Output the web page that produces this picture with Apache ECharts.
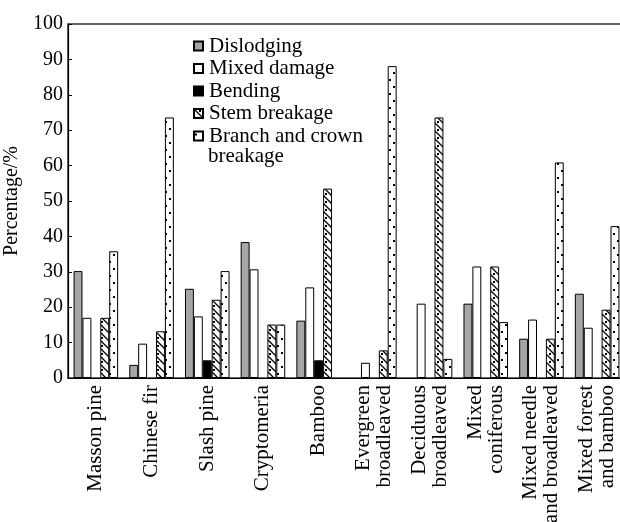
<!DOCTYPE html>
<html>
<head>
<meta charset="utf-8">
<script src="https://cdn.jsdelivr.net/npm/echarts@6/dist/echarts.min.js"></script>
<style>
  html, body { margin: 0; padding: 0; background: #fff; }
  #chart { width: 620px; height: 522px; }
</style>
</head>
<body>
<div id="chart"></div>
<script>
// Forest types on the x axis
const categories = [
  'Masson pine', 'Chinese fir', 'Slash pine', 'Cryptomeria', 'Bamboo',
  'Evergreen\nbroadleaved', 'Deciduous\nbroadleaved', 'Mixed\nconiferous',
  'Mixed needle\nand broadleaved', 'Mixed forest\nand bamboo'
];

// Share of each damage type (%), null = no damage of that type
const dislodging   = [30.2, 3.7, 25.2, 38.4, 16.2, null, null, 21.0, 11.1, 23.8];
const mixedDamage  = [17.0, 9.7, 17.4, 30.7, 25.6, 4.3, 21.0, 31.5, 16.5, 14.2];
const bending      = [null, null, 5.0, null, 5.0, null, null, null, null, null];
const stemBreakage = [17.0, 13.2, 22.1, 15.1, 53.5, 7.8, 73.6, 31.5, 11.1, 19.3];
const branchCrown  = [35.8, 73.6, 30.2, 15.1, null, 88.1, 5.4, 15.8, 60.9, 42.9];

const yTicks = [0, 10, 20, 30, 40, 50, 60, 70, 80, 90, 100];

const FONT = '"Liberation Serif", "DejaVu Serif", serif';

// Small tiled fills for the breakage series
function hatchTile() {
  const c = document.createElement('canvas');
  c.width = 8; c.height = 8;
  const g = c.getContext('2d');
  g.fillStyle = '#fff'; g.fillRect(0, 0, 8, 8);
  g.strokeStyle = '#000'; g.lineWidth = 1.3;
  g.beginPath();
  g.moveTo(-1, -1); g.lineTo(9, 9);
  g.moveTo(-1, 7); g.lineTo(1, 9);
  g.moveTo(7, -1); g.lineTo(9, 1);
  g.stroke();
  g.fillStyle = '#000';
  g.fillRect(5, 1, 2, 2);
  return c;
}
function dotTile() {
  const c = document.createElement('canvas');
  c.width = 8; c.height = 14;
  const g = c.getContext('2d');
  g.fillStyle = '#fff'; g.fillRect(0, 0, 8, 14);
  g.fillStyle = '#000';
  g.fillRect(1, 2, 2, 2);
  g.fillRect(5, 9, 2, 2);
  return c;
}

const hatchFill = { image: hatchTile(), repeat: 'repeat' };
const dotFill = { image: dotTile(), repeat: 'repeat' };

const chart = echarts.init(document.getElementById('chart'), null, { renderer: 'canvas' });

function barSeries(name, data, color) {
  return {
    name: name,
    type: 'bar',
    data: data,
    barGap: '0%',
    barCategoryGap: '20%',
    itemStyle: { color: color, borderColor: '#000', borderWidth: 1 },
    emphasis: { disabled: true }
  };
}

const option = {
  animation: false,
  backgroundColor: '#fff',
  textStyle: { fontFamily: FONT, color: '#000' },
  grid: {
    show: true,
    outerBoundsMode: 'none',
    containLabel: false,
    left: 68, top: 24, width: 557, height: 354,
    borderColor: '#333', borderWidth: 1.5,
    backgroundColor: 'transparent'
  },
  legend: {
    orient: 'vertical',
    left: 193, top: 35.5,
    padding: 0,
    itemWidth: 9, itemHeight: 9,
    itemGap: 1.5,
    icon: 'rect',
    selectedMode: false,
    formatter: function (name) {
      return name === 'Branch and crown breakage' ? 'Branch and crown' : name;
    },
    textStyle: { fontFamily: FONT, fontSize: 21, color: '#000', lineHeight: 21, padding: [0, 0, 0, 1] }
  },
  graphic: [{
    type: 'text',
    left: 208, top: 145.5,
    style: { text: 'breakage', font: '21px ' + FONT, fill: '#000' }
  }],
  xAxis: {
    type: 'category',
    data: categories,
    boundaryGap: true,
    axisLine: { lineStyle: { color: '#000', width: 1.2 } },
    axisTick: { inside: true, length: 4, lineStyle: { color: '#000' } },
    axisLabel: { rotate: 90, interval: 0, fontFamily: FONT, fontSize: 21, color: '#000', lineHeight: 21, margin: 7 }
  },
  yAxis: {
    type: 'value',
    min: yTicks[0], max: yTicks[yTicks.length - 1], interval: 10,
    name: 'Percentage/%',
    nameLocation: 'middle',
    nameGap: 37,
    nameRotate: 90,
    nameTextStyle: { fontFamily: FONT, fontSize: 20, color: '#000' },
    splitLine: { show: false },
    axisLine: { show: true, lineStyle: { color: '#000', width: 1.2 } },
    axisTick: { show: true, inside: true, length: 4, lineStyle: { color: '#000' } },
    axisLabel: { fontFamily: FONT, fontSize: 20, color: '#000', margin: 5 }
  },
  series: [
    barSeries('Dislodging', dislodging, '#a6a6a6'),
    barSeries('Mixed damage', mixedDamage, '#ffffff'),
    barSeries('Bending', bending, '#000000'),
    barSeries('Stem breakage', stemBreakage, hatchFill),
    barSeries('Branch and crown breakage', branchCrown, dotFill)
  ]
};

chart.setOption(option);
</script>
</body>
</html>
